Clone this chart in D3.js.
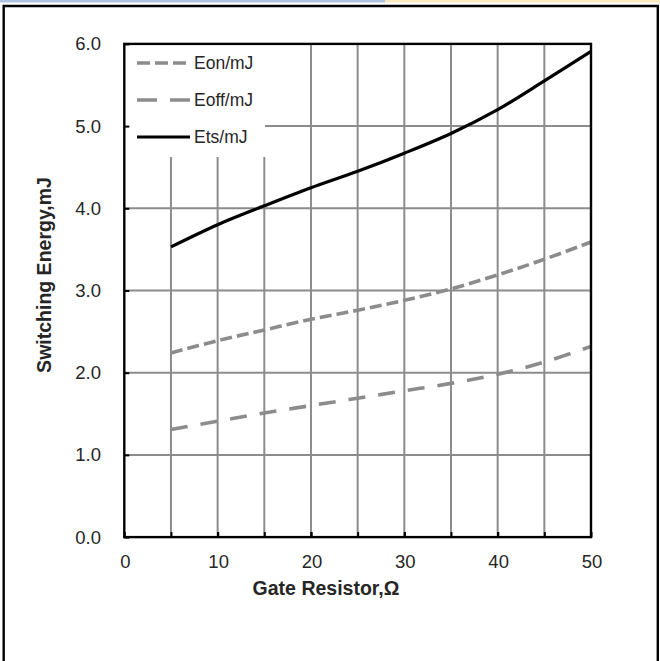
<!DOCTYPE html>
<html>
<head>
<meta charset="utf-8">
<script src="https://cdn.jsdelivr.net/npm/d3@7"></script>
<style>
  html, body { margin: 0; padding: 0; background: #fff; }
  svg { display: block; }
  text { font-family: "Liberation Sans", Arial, sans-serif; fill: #262626; }
</style>
</head>
<body>
<svg id="chart" width="660" height="661"></svg>
<script>
// Gate resistance (ohm) and switching energies (mJ)
const gateResistor = [5, 10, 15, 20, 25, 30, 35, 40, 45, 50];
const eon  = [2.24, 2.39, 2.52, 2.65, 2.76, 2.88, 3.02, 3.19, 3.38, 3.59];
const eoff = [1.31, 1.41, 1.51, 1.60, 1.69, 1.78, 1.87, 1.98, 2.13, 2.32];
const ets  = [3.53, 3.80, 4.03, 4.25, 4.45, 4.67, 4.91, 5.20, 5.55, 5.91];

const xTicks = [0, 10, 20, 30, 40, 50];
const yTicks = [0, 1, 2, 3, 4, 5, 6];
const xGrid = [5, 10, 15, 20, 25, 30, 35, 40, 45];
const yGrid = [1, 2, 3, 4, 5];

const seriesNames = ["Eon/mJ", "Eoff/mJ", "Ets/mJ"];

const svg = d3.select("#chart");

// thin banner strip along the top edge
svg.append("rect").attr("x", 0).attr("y", 0).attr("width", 385).attr("height", 2.5).attr("fill", "#adc3e3");
svg.append("rect").attr("x", 385).attr("y", 0).attr("width", 275).attr("height", 2.5).attr("fill", "#fde9bd");

// outer frame (open at the bottom)
svg.append("path")
  .attr("d", "M3.7,661 V6 H657.8 V661")
  .attr("fill", "none").attr("stroke", "#000").attr("stroke-width", 2.4);

const plot = { left: 124.3, right: 591, top: 43.9, bottom: 537.1 };

const x = d3.scaleLinear().domain([0, 50]).range([plot.left, plot.right]);
const y = d3.scaleLinear().domain([0, 6]).range([plot.bottom, plot.top]);

// legend box area (grid is hidden behind it)
const legendBox = { x0: plot.left, x1: 265, y0: plot.top, y1: 157 };

const grid = svg.append("g").attr("stroke", "#8c8c8c").attr("stroke-width", 2);
grid.selectAll("line.v").data(xGrid).join("line")
  .attr("class", "v")
  .attr("x1", d => x(d)).attr("x2", d => x(d))
  .attr("y1", plot.bottom)
  .attr("y2", d => x(d) < legendBox.x1 ? legendBox.y1 : plot.top);
grid.selectAll("line.h").data(yGrid).join("line")
  .attr("class", "h")
  .attr("y1", d => y(d)).attr("y2", d => y(d))
  .attr("x1", d => y(d) < legendBox.y1 ? legendBox.x1 : plot.left)
  .attr("x2", plot.right);

// series lines
const line = d3.line()
  .x((d, i) => x(gateResistor[i]))
  .y(d => y(d))
  .curve(d3.curveCatmullRom.alpha(0.5));

svg.append("path").datum(eon).attr("d", line)
  .attr("fill", "none").attr("stroke", "#8c8c8c").attr("stroke-width", 3.6)
  .attr("stroke-dasharray", "12,5");
svg.append("path").datum(eoff).attr("d", line)
  .attr("fill", "none").attr("stroke", "#8c8c8c").attr("stroke-width", 3.6)
  .attr("stroke-dasharray", "17,13");
svg.append("path").datum(ets).attr("d", line)
  .attr("fill", "none").attr("stroke", "#000").attr("stroke-width", 3.2);

// axes with inward ticks
const xAxis = d3.axisBottom(x).tickValues(xTicks.concat(xGrid)).tickSize(-5).tickFormat("");
const yAxis = d3.axisLeft(y).tickValues(yTicks).tickSize(-5).tickFormat("");

svg.append("g").attr("transform", `translate(0,${plot.bottom})`).call(xAxis)
  .call(g => g.select(".domain").remove())
  .call(g => g.selectAll("line").attr("stroke", "#000").attr("stroke-width", 2));
svg.append("g").attr("transform", `translate(${plot.left},0)`).call(yAxis)
  .call(g => g.select(".domain").remove())
  .call(g => g.selectAll("line").attr("stroke", "#000").attr("stroke-width", 2));

// plot border
svg.append("rect")
  .attr("x", plot.left).attr("y", plot.top)
  .attr("width", plot.right - plot.left).attr("height", plot.bottom - plot.top)
  .attr("fill", "none").attr("stroke", "#000").attr("stroke-width", 2.4);

// tick labels
svg.append("g").selectAll("text").data(xTicks).join("text")
  .attr("x", d => x(d) + 1).attr("y", 568)
  .attr("text-anchor", "middle").attr("font-size", 18.5)
  .text(d => d);
svg.append("g").selectAll("text").data(yTicks).join("text")
  .attr("x", 101).attr("y", d => y(d)).attr("dy", "0.35em")
  .attr("text-anchor", "end").attr("font-size", 18.5)
  .text(d => d.toFixed(1));

// axis titles
svg.append("text")
  .attr("x", 326).attr("y", 595)
  .attr("text-anchor", "middle").attr("font-size", 19.5).attr("font-weight", "bold")
  .attr("fill", "#000")
  .text("Gate Resistor,Ω");
svg.append("text")
  .attr("transform", "translate(51,275) rotate(-90)")
  .attr("text-anchor", "middle").attr("font-size", 19.5).attr("font-weight", "bold")
  .attr("fill", "#000")
  .text("Switching Energy,mJ");

// legend
const legendRows = [
  { name: seriesNames[0], y: 63,  stroke: "#8c8c8c", dash: "13,5",  len: 49, w: 3.6 },
  { name: seriesNames[1], y: 100, stroke: "#8c8c8c", dash: "20,13", len: 53, w: 3.6 },
  { name: seriesNames[2], y: 137, stroke: "#000",    dash: null,    len: 53, w: 3.2 }
];
const legend = svg.append("g");
legendRows.forEach(r => {
  legend.append("line")
    .attr("x1", 137).attr("x2", 137 + r.len)
    .attr("y1", r.y).attr("y2", r.y)
    .attr("stroke", r.stroke).attr("stroke-width", r.w)
    .attr("stroke-dasharray", r.dash);
  legend.append("text")
    .attr("x", 194).attr("y", r.y).attr("dy", "0.35em")
    .attr("font-size", 17.5)
    .text(r.name);
});
</script>
</body>
</html>
